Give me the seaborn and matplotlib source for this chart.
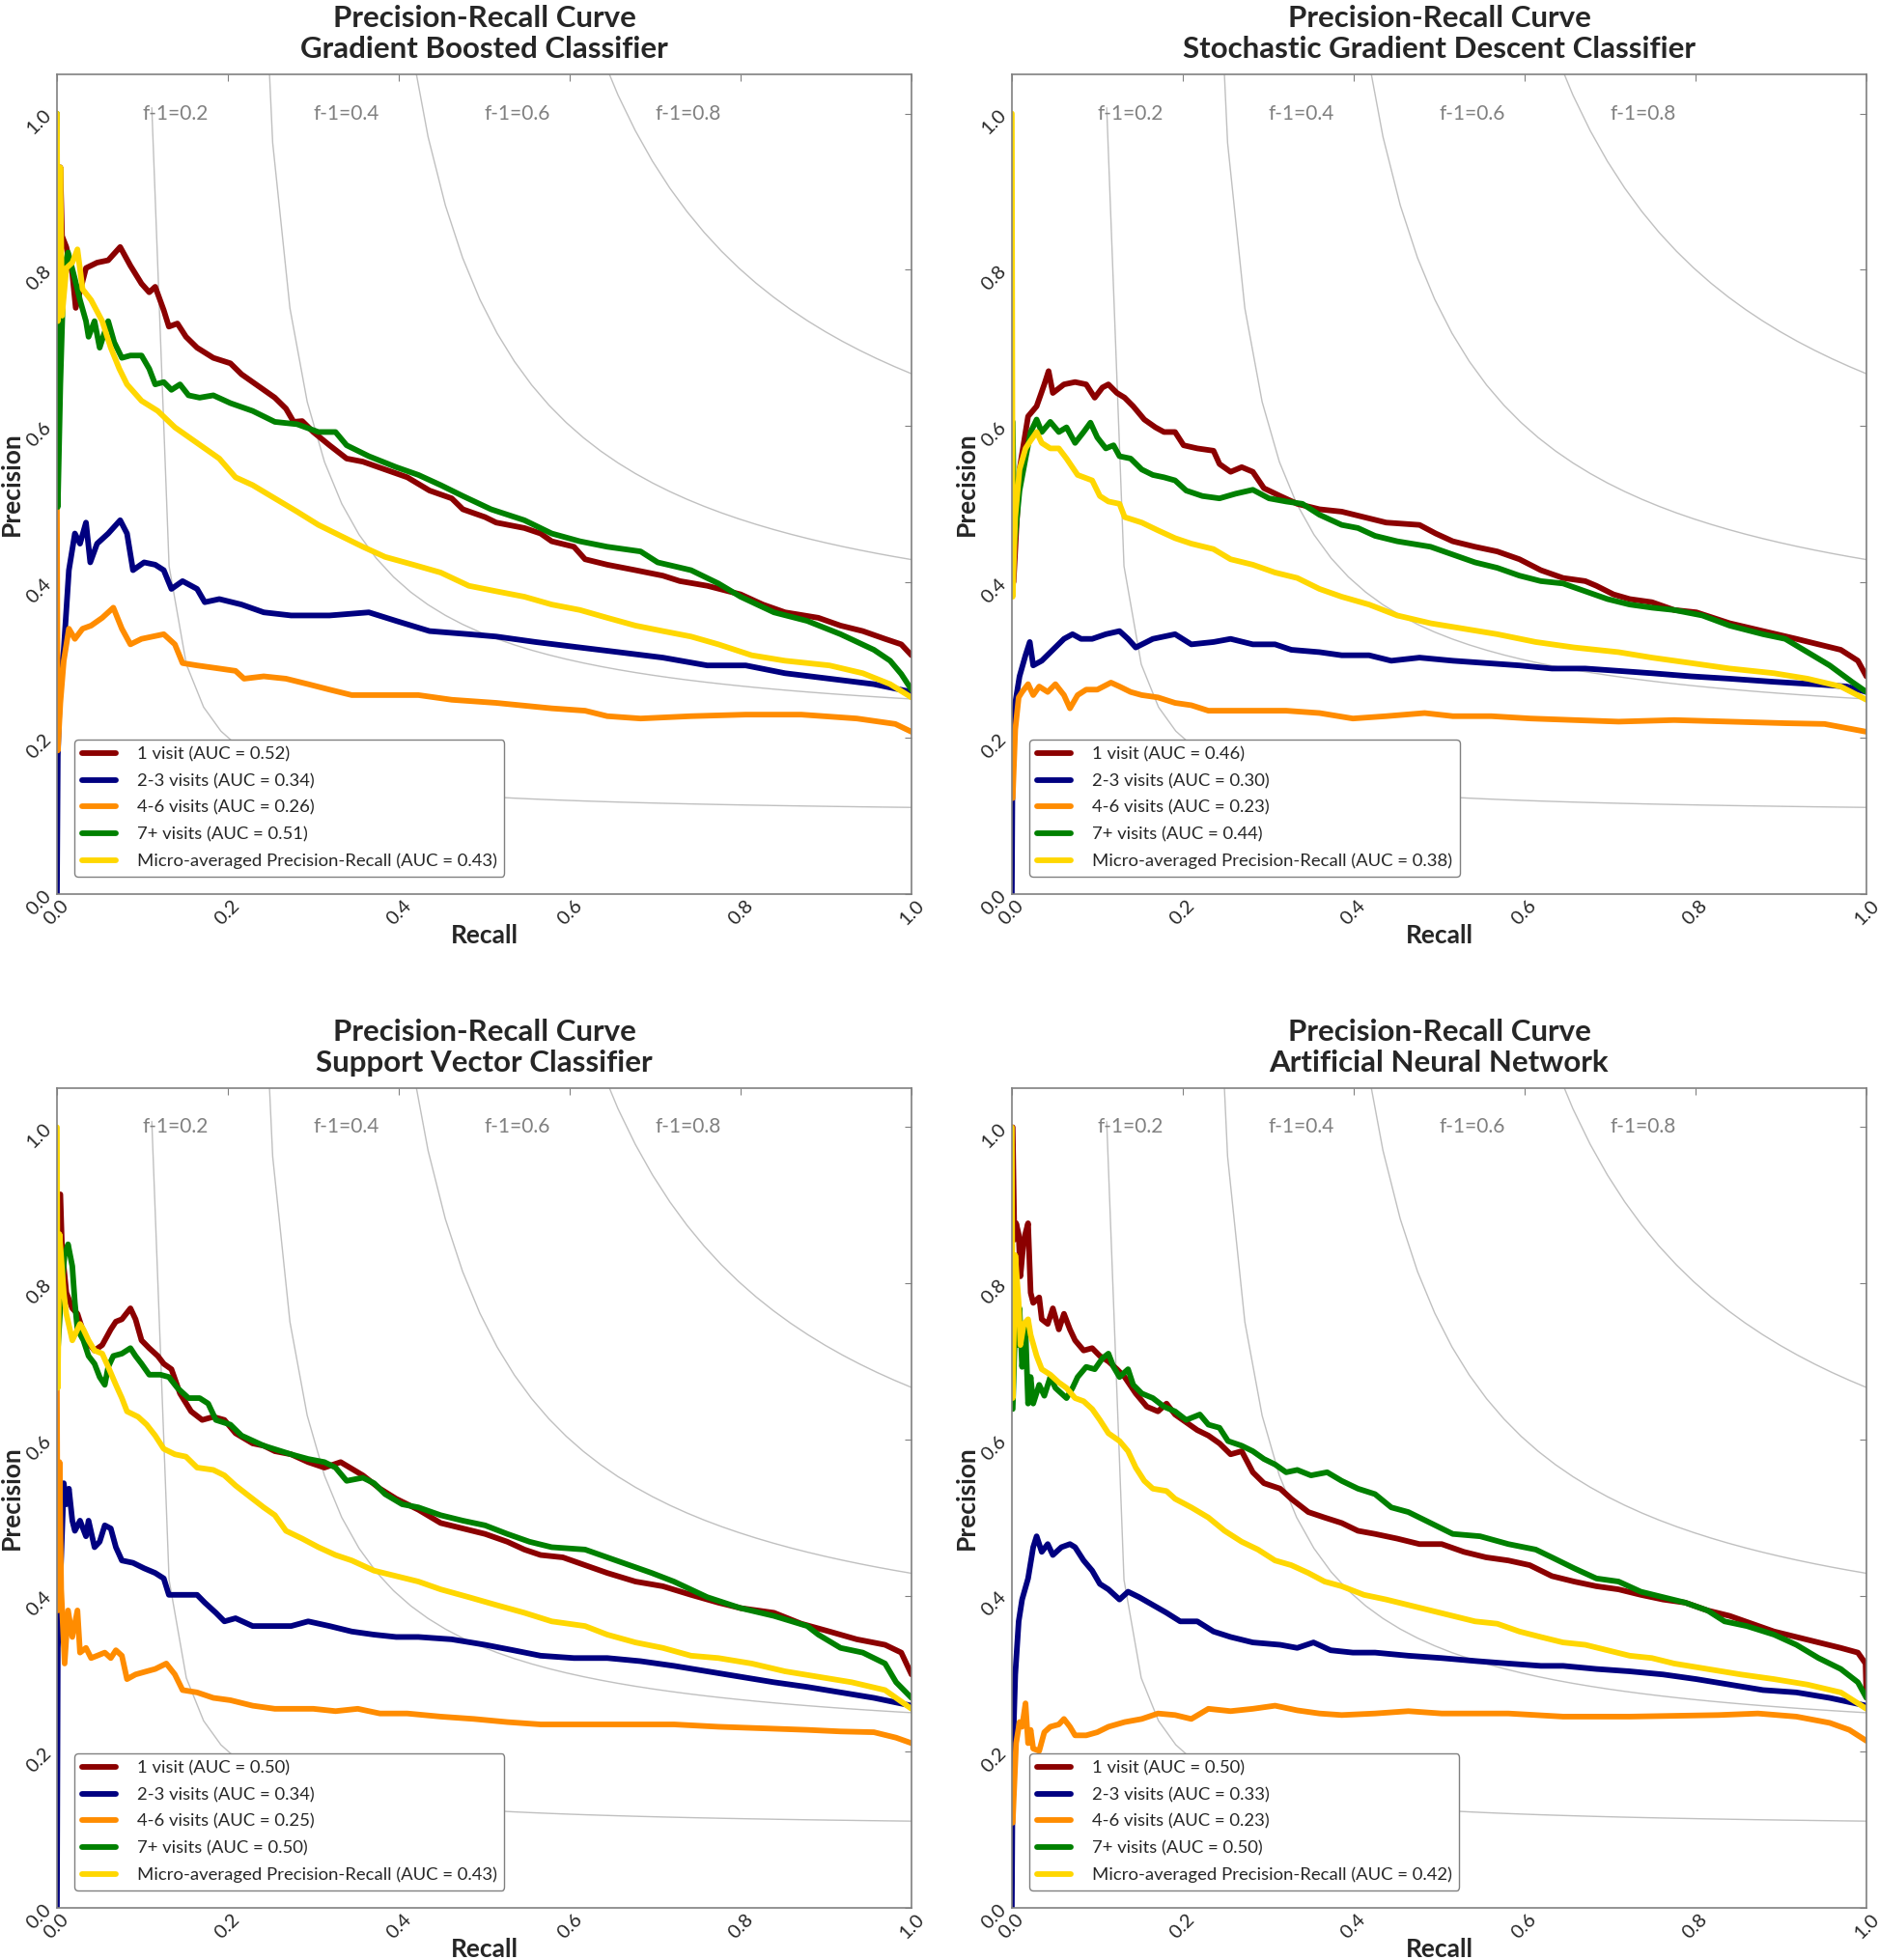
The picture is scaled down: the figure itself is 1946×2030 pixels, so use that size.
import numpy as np
import matplotlib.pyplot as plt
import seaborn as sns

# class names / colours / AUC values read from the legends
class_labels = ["1 visit", "2-3 visits", "4-6 visits", "7+ visits", "Micro-averaged Precision-Recall"]
line_colors = ["darkred", "navy", "darkorange", "green", "gold"]
f_scores = [0.2, 0.4, 0.6, 0.8]

gb_auc = [0.52, 0.34, 0.26, 0.51, 0.43]
sgd_auc = [0.46, 0.30, 0.23, 0.44, 0.38]
svc_auc = [0.50, 0.34, 0.25, 0.50, 0.43]
ann_auc = [0.50, 0.33, 0.23, 0.50, 0.42]

# ---------------- Gradient Boosted Classifier ----------------
gb_v1_rec = [0.002, 0.004, 0.006, 0.011, 0.018, 0.022, 0.034, 0.047, 0.060, 0.074,
             0.086, 0.099, 0.108, 0.115, 0.125, 0.131, 0.141, 0.151, 0.164, 0.183,
             0.203, 0.216, 0.229, 0.242, 0.255, 0.268, 0.277, 0.287, 0.300, 0.319,
             0.339, 0.358, 0.384, 0.410, 0.436, 0.462, 0.475, 0.501, 0.514, 0.547,
             0.566, 0.579, 0.605, 0.618, 0.644, 0.677, 0.709, 0.729, 0.761, 0.800,
             0.826, 0.852, 0.891, 0.917, 0.943, 0.969, 0.988, 1.0]
gb_v1_prec = [0.80, 0.931, 0.843, 0.829, 0.795, 0.751, 0.802, 0.809, 0.812, 0.829,
              0.805, 0.782, 0.771, 0.778, 0.748, 0.727, 0.731, 0.714, 0.700, 0.687,
              0.680, 0.666, 0.656, 0.646, 0.636, 0.622, 0.605, 0.606, 0.592, 0.575,
              0.558, 0.554, 0.544, 0.534, 0.517, 0.507, 0.493, 0.483, 0.476, 0.469,
              0.462, 0.452, 0.445, 0.429, 0.422, 0.415, 0.408, 0.401, 0.395, 0.384,
              0.371, 0.361, 0.354, 0.344, 0.337, 0.327, 0.320, 0.306]
gb_v23_rec = [0.0, 0.001, 0.004, 0.008, 0.014, 0.021, 0.027, 0.034, 0.039, 0.047,
              0.060, 0.074, 0.082, 0.089, 0.102, 0.115, 0.125, 0.134, 0.147, 0.164,
              0.173, 0.190, 0.216, 0.242, 0.274, 0.319, 0.365, 0.397, 0.436, 0.482,
              0.514, 0.560, 0.612, 0.657, 0.709, 0.761, 0.806, 0.852, 0.904, 0.956,
              1.0]
gb_v23_prec = [0.0, 0.177, 0.279, 0.313, 0.415, 0.462, 0.449, 0.476, 0.425, 0.449,
               0.462, 0.479, 0.462, 0.415, 0.425, 0.422, 0.415, 0.391, 0.401, 0.391,
               0.374, 0.378, 0.371, 0.361, 0.357, 0.357, 0.361, 0.350, 0.337, 0.333,
               0.330, 0.323, 0.316, 0.310, 0.303, 0.293, 0.293, 0.283, 0.276, 0.269,
               0.259]
gb_v46_rec = [0.0, 0.001, 0.004, 0.008, 0.014, 0.021, 0.030, 0.040, 0.053, 0.066,
              0.076, 0.086, 0.099, 0.112, 0.125, 0.138, 0.147, 0.164, 0.190, 0.209,
              0.219, 0.242, 0.268, 0.294, 0.319, 0.345, 0.384, 0.423, 0.462, 0.514,
              0.579, 0.618, 0.644, 0.683, 0.742, 0.806, 0.871, 0.936, 0.981, 1.0]
gb_v46_prec = [0.496, 0.184, 0.245, 0.299, 0.340, 0.327, 0.340, 0.344, 0.354, 0.367,
               0.340, 0.320, 0.327, 0.330, 0.333, 0.320, 0.296, 0.293, 0.289, 0.286,
               0.276, 0.279, 0.276, 0.269, 0.262, 0.255, 0.255, 0.255, 0.249, 0.245,
               0.238, 0.235, 0.228, 0.225, 0.228, 0.230, 0.230, 0.225, 0.218, 0.208]
gb_v7_rec = [0.0, 0.001, 0.004, 0.008, 0.013, 0.021, 0.027, 0.034, 0.037, 0.044,
             0.050, 0.060, 0.067, 0.076, 0.086, 0.099, 0.108, 0.115, 0.125, 0.134,
             0.144, 0.154, 0.167, 0.183, 0.203, 0.229, 0.255, 0.281, 0.306, 0.326,
             0.339, 0.365, 0.397, 0.423, 0.449, 0.475, 0.508, 0.547, 0.579, 0.612,
             0.644, 0.683, 0.703, 0.742, 0.774, 0.800, 0.839, 0.878, 0.917, 0.956,
             0.975, 0.988, 1.0]
gb_v7_prec = [1.0, 0.496, 0.653, 0.802, 0.822, 0.788, 0.761, 0.734, 0.714, 0.734,
              0.700, 0.734, 0.707, 0.687, 0.690, 0.690, 0.673, 0.653, 0.656, 0.646,
              0.653, 0.639, 0.636, 0.639, 0.629, 0.619, 0.605, 0.602, 0.592, 0.592,
              0.575, 0.561, 0.547, 0.537, 0.524, 0.510, 0.493, 0.479, 0.462, 0.452,
              0.445, 0.439, 0.425, 0.415, 0.398, 0.381, 0.361, 0.350, 0.333, 0.313,
              0.299, 0.282, 0.262]
gb_micro_rec = [0.0, 0.001, 0.004, 0.006, 0.011, 0.018, 0.024, 0.030, 0.040, 0.053,
                0.063, 0.073, 0.082, 0.099, 0.118, 0.138, 0.164, 0.190, 0.209, 0.229,
                0.255, 0.281, 0.306, 0.332, 0.358, 0.384, 0.417, 0.449, 0.482, 0.514,
                0.547, 0.579, 0.612, 0.644, 0.677, 0.709, 0.742, 0.774, 0.813, 0.852,
                0.904, 0.943, 0.975, 1.0]
gb_micro_prec = [1.0, 0.734, 0.931, 0.741, 0.802, 0.809, 0.826, 0.775, 0.761, 0.734,
                 0.700, 0.673, 0.653, 0.632, 0.619, 0.598, 0.578, 0.558, 0.534, 0.524,
                 0.507, 0.490, 0.473, 0.459, 0.445, 0.432, 0.422, 0.412, 0.395, 0.388,
                 0.381, 0.371, 0.364, 0.354, 0.344, 0.337, 0.330, 0.320, 0.306, 0.299,
                 0.293, 0.283, 0.269, 0.252]

# ---------------- Stochastic Gradient Descent Classifier ----------------
sgd_v1_rec = [0.002, 0.009, 0.019, 0.029, 0.038, 0.043, 0.048, 0.061, 0.074, 0.087,
              0.097, 0.106, 0.113, 0.123, 0.132, 0.142, 0.155, 0.168, 0.178, 0.191,
              0.201, 0.217, 0.236, 0.243, 0.256, 0.269, 0.282, 0.295, 0.314, 0.334,
              0.360, 0.386, 0.412, 0.438, 0.477, 0.496, 0.516, 0.542, 0.568, 0.594,
              0.619, 0.645, 0.671, 0.684, 0.704, 0.723, 0.749, 0.775, 0.801, 0.840,
              0.879, 0.918, 0.944, 0.970, 0.990, 1.0]
sgd_v1_prec = [0.40, 0.544, 0.612, 0.625, 0.653, 0.670, 0.642, 0.653, 0.656, 0.653,
               0.636, 0.649, 0.653, 0.642, 0.636, 0.625, 0.608, 0.598, 0.592, 0.592,
               0.575, 0.571, 0.568, 0.551, 0.541, 0.547, 0.541, 0.520, 0.510, 0.500,
               0.493, 0.490, 0.483, 0.476, 0.473, 0.462, 0.452, 0.445, 0.439, 0.429,
               0.415, 0.405, 0.401, 0.395, 0.384, 0.378, 0.374, 0.364, 0.361, 0.347,
               0.337, 0.327, 0.320, 0.313, 0.299, 0.279]
sgd_v23_rec = [0.0, 0.001, 0.004, 0.009, 0.016, 0.021, 0.025, 0.035, 0.048, 0.061,
               0.071, 0.081, 0.094, 0.110, 0.126, 0.136, 0.145, 0.165, 0.191, 0.210,
               0.236, 0.256, 0.282, 0.308, 0.327, 0.360, 0.386, 0.418, 0.444, 0.477,
               0.516, 0.555, 0.594, 0.632, 0.671, 0.710, 0.749, 0.795, 0.840, 0.892,
               0.938, 0.977, 1.0]
sgd_v23_prec = [0.0, 0.211, 0.245, 0.279, 0.306, 0.323, 0.293, 0.299, 0.313, 0.327,
                0.333, 0.327, 0.327, 0.333, 0.337, 0.327, 0.316, 0.327, 0.333, 0.320,
                0.323, 0.327, 0.320, 0.320, 0.313, 0.310, 0.306, 0.306, 0.299, 0.303,
                0.299, 0.296, 0.293, 0.289, 0.289, 0.286, 0.283, 0.279, 0.276, 0.272,
                0.269, 0.266, 0.259]
sgd_v46_rec = [0.001, 0.004, 0.008, 0.012, 0.019, 0.025, 0.032, 0.042, 0.051, 0.061,
               0.068, 0.077, 0.087, 0.100, 0.116, 0.126, 0.139, 0.152, 0.171, 0.191,
               0.210, 0.230, 0.256, 0.282, 0.321, 0.360, 0.399, 0.438, 0.483, 0.516,
               0.561, 0.607, 0.658, 0.710, 0.775, 0.840, 0.905, 0.951, 1.0]
sgd_v46_prec = [0.123, 0.211, 0.252, 0.259, 0.269, 0.255, 0.266, 0.259, 0.269, 0.255,
                0.238, 0.255, 0.262, 0.262, 0.271, 0.266, 0.259, 0.255, 0.252, 0.245,
                0.242, 0.235, 0.235, 0.235, 0.235, 0.232, 0.225, 0.228, 0.232, 0.228,
                0.228, 0.225, 0.223, 0.221, 0.223, 0.221, 0.219, 0.218, 0.208]
sgd_v7_rec = [0.001, 0.003, 0.009, 0.016, 0.022, 0.029, 0.035, 0.045, 0.055, 0.064,
              0.074, 0.084, 0.092, 0.100, 0.110, 0.119, 0.126, 0.139, 0.152, 0.165,
              0.178, 0.191, 0.204, 0.223, 0.243, 0.262, 0.282, 0.301, 0.321, 0.340,
              0.360, 0.386, 0.405, 0.425, 0.451, 0.490, 0.516, 0.542, 0.568, 0.594,
              0.619, 0.645, 0.671, 0.697, 0.723, 0.749, 0.775, 0.808, 0.840, 0.879,
              0.905, 0.931, 0.957, 0.983, 1.0]
sgd_v7_prec = [0.605, 0.449, 0.517, 0.558, 0.592, 0.608, 0.592, 0.605, 0.592, 0.598,
               0.578, 0.592, 0.604, 0.585, 0.571, 0.575, 0.561, 0.558, 0.544, 0.537,
               0.534, 0.530, 0.517, 0.510, 0.507, 0.513, 0.518, 0.507, 0.503, 0.500,
               0.486, 0.473, 0.469, 0.459, 0.452, 0.445, 0.435, 0.425, 0.418, 0.408,
               0.401, 0.398, 0.388, 0.378, 0.371, 0.367, 0.364, 0.357, 0.344, 0.333,
               0.327, 0.310, 0.293, 0.272, 0.259]
sgd_micro_rec = [0.0, 0.001, 0.004, 0.009, 0.016, 0.022, 0.029, 0.035, 0.045, 0.055,
                 0.064, 0.077, 0.094, 0.103, 0.113, 0.126, 0.132, 0.152, 0.171, 0.191,
                 0.210, 0.236, 0.256, 0.282, 0.308, 0.334, 0.360, 0.386, 0.418, 0.451,
                 0.490, 0.529, 0.568, 0.613, 0.658, 0.710, 0.749, 0.795, 0.840, 0.892,
                 0.931, 0.970, 1.0]
sgd_micro_prec = [1.0, 0.381, 0.483, 0.544, 0.571, 0.581, 0.592, 0.578, 0.571, 0.571,
                  0.558, 0.537, 0.530, 0.510, 0.503, 0.500, 0.483, 0.476, 0.466, 0.456,
                  0.449, 0.442, 0.429, 0.422, 0.412, 0.405, 0.391, 0.381, 0.371, 0.357,
                  0.347, 0.340, 0.333, 0.323, 0.316, 0.310, 0.303, 0.296, 0.289, 0.283,
                  0.276, 0.266, 0.249]

# ---------------- Support Vector Classifier ----------------
svc_v1_rec = [0.004, 0.006, 0.011, 0.018, 0.024, 0.034, 0.044, 0.053, 0.063, 0.069,
              0.076, 0.086, 0.092, 0.099, 0.108, 0.118, 0.125, 0.134, 0.144, 0.157,
              0.170, 0.183, 0.196, 0.209, 0.229, 0.242, 0.255, 0.274, 0.294, 0.313,
              0.332, 0.358, 0.378, 0.397, 0.423, 0.449, 0.475, 0.501, 0.527, 0.547,
              0.566, 0.592, 0.618, 0.644, 0.677, 0.709, 0.742, 0.774, 0.800, 0.839,
              0.871, 0.904, 0.936, 0.969, 0.988, 1.0]
svc_v1_prec = [0.914, 0.843, 0.788, 0.768, 0.761, 0.727, 0.714, 0.721, 0.741, 0.751,
               0.754, 0.768, 0.754, 0.727, 0.717, 0.707, 0.697, 0.690, 0.659, 0.636,
               0.625, 0.629, 0.625, 0.608, 0.595, 0.592, 0.585, 0.581, 0.571, 0.564,
               0.571, 0.554, 0.537, 0.524, 0.510, 0.493, 0.486, 0.479, 0.469, 0.459,
               0.452, 0.449, 0.439, 0.429, 0.418, 0.412, 0.401, 0.391, 0.384, 0.378,
               0.364, 0.354, 0.344, 0.337, 0.327, 0.299]
svc_v23_rec = [0.0, 0.001, 0.005, 0.008, 0.011, 0.014, 0.018, 0.021, 0.027, 0.034,
               0.037, 0.044, 0.050, 0.056, 0.063, 0.069, 0.076, 0.089, 0.102, 0.115,
               0.125, 0.131, 0.144, 0.164, 0.173, 0.186, 0.196, 0.209, 0.229, 0.255,
               0.274, 0.294, 0.319, 0.345, 0.371, 0.397, 0.423, 0.462, 0.501, 0.534,
               0.566, 0.605, 0.644, 0.683, 0.722, 0.761, 0.800, 0.839, 0.878, 0.917,
               0.956, 1.0]
svc_v23_prec = [0.0, 0.333, 0.449, 0.544, 0.517, 0.537, 0.496, 0.483, 0.496, 0.476,
                0.496, 0.462, 0.469, 0.490, 0.486, 0.462, 0.445, 0.442, 0.435, 0.429,
                0.422, 0.401, 0.401, 0.401, 0.391, 0.378, 0.367, 0.371, 0.361, 0.361,
                0.361, 0.367, 0.361, 0.354, 0.350, 0.347, 0.347, 0.344, 0.337, 0.330,
                0.323, 0.320, 0.320, 0.316, 0.310, 0.303, 0.296, 0.289, 0.283, 0.276,
                0.269, 0.259]
svc_v46_rec = [0.0, 0.001, 0.003, 0.005, 0.009, 0.013, 0.018, 0.024, 0.027, 0.034,
               0.040, 0.047, 0.056, 0.063, 0.069, 0.076, 0.082, 0.092, 0.105, 0.115,
               0.128, 0.138, 0.147, 0.164, 0.183, 0.203, 0.229, 0.255, 0.300, 0.326,
               0.352, 0.378, 0.410, 0.449, 0.488, 0.527, 0.566, 0.644, 0.722, 0.774,
               0.826, 0.878, 0.917, 0.956, 0.982, 1.0]
svc_v46_prec = [0.666, 0.381, 0.571, 0.408, 0.313, 0.381, 0.347, 0.381, 0.327, 0.333,
                0.320, 0.323, 0.327, 0.320, 0.330, 0.323, 0.293, 0.299, 0.303, 0.306,
                0.313, 0.299, 0.279, 0.276, 0.269, 0.266, 0.259, 0.255, 0.255, 0.252,
                0.255, 0.249, 0.249, 0.245, 0.242, 0.238, 0.235, 0.235, 0.235, 0.232,
                0.230, 0.228, 0.226, 0.225, 0.218, 0.211]
svc_v7_rec = [0.001, 0.005, 0.009, 0.013, 0.018, 0.021, 0.024, 0.031, 0.037, 0.044,
              0.050, 0.056, 0.060, 0.066, 0.076, 0.086, 0.092, 0.099, 0.108, 0.121,
              0.131, 0.141, 0.154, 0.167, 0.177, 0.186, 0.203, 0.216, 0.242, 0.274,
              0.294, 0.313, 0.326, 0.339, 0.358, 0.371, 0.384, 0.404, 0.423, 0.449,
              0.475, 0.501, 0.527, 0.553, 0.579, 0.618, 0.644, 0.670, 0.696, 0.722,
              0.761, 0.800, 0.839, 0.878, 0.891, 0.917, 0.943, 0.969, 0.982, 1.0]
svc_v7_prec = [0.714, 0.788, 0.836, 0.850, 0.822, 0.775, 0.741, 0.727, 0.707, 0.697,
               0.680, 0.670, 0.693, 0.707, 0.710, 0.717, 0.707, 0.697, 0.683, 0.683,
               0.680, 0.666, 0.653, 0.653, 0.646, 0.625, 0.619, 0.605, 0.592, 0.581,
               0.575, 0.571, 0.564, 0.547, 0.551, 0.544, 0.530, 0.517, 0.513, 0.503,
               0.496, 0.490, 0.479, 0.469, 0.462, 0.459, 0.449, 0.439, 0.429, 0.418,
               0.398, 0.384, 0.374, 0.361, 0.350, 0.333, 0.327, 0.313, 0.289, 0.269]
svc_micro_rec = [0.0, 0.001, 0.003, 0.008, 0.011, 0.018, 0.021, 0.027, 0.031, 0.037,
                 0.044, 0.053, 0.060, 0.069, 0.076, 0.082, 0.095, 0.105, 0.115, 0.125,
                 0.138, 0.151, 0.164, 0.183, 0.196, 0.209, 0.229, 0.242, 0.255, 0.268,
                 0.287, 0.306, 0.326, 0.345, 0.371, 0.397, 0.423, 0.449, 0.482, 0.514,
                 0.547, 0.579, 0.618, 0.644, 0.677, 0.709, 0.742, 0.774, 0.813, 0.852,
                 0.891, 0.930, 0.969, 1.0]
svc_micro_prec = [1.0, 0.666, 0.863, 0.788, 0.761, 0.727, 0.734, 0.748, 0.741, 0.727,
                  0.714, 0.710, 0.693, 0.670, 0.653, 0.636, 0.629, 0.619, 0.605, 0.588,
                  0.581, 0.578, 0.564, 0.561, 0.554, 0.541, 0.524, 0.513, 0.503, 0.483,
                  0.473, 0.462, 0.452, 0.445, 0.432, 0.425, 0.418, 0.408, 0.398, 0.388,
                  0.378, 0.367, 0.361, 0.350, 0.340, 0.333, 0.323, 0.320, 0.313, 0.303,
                  0.296, 0.289, 0.279, 0.255]

# ---------------- Artificial Neural Network ----------------
ann_v1_rec = [0.001, 0.003, 0.005, 0.008, 0.010, 0.014, 0.019, 0.022, 0.025, 0.032,
              0.035, 0.042, 0.048, 0.055, 0.061, 0.068, 0.074, 0.084, 0.094, 0.103,
              0.113, 0.123, 0.132, 0.145, 0.158, 0.171, 0.181, 0.191, 0.204, 0.217,
              0.230, 0.243, 0.256, 0.269, 0.282, 0.295, 0.314, 0.327, 0.347, 0.366,
              0.386, 0.405, 0.425, 0.451, 0.477, 0.503, 0.529, 0.555, 0.581, 0.606,
              0.632, 0.658, 0.684, 0.710, 0.736, 0.762, 0.788, 0.814, 0.840, 0.866,
              0.892, 0.918, 0.944, 0.970, 0.990, 0.999, 1.0]
ann_v1_prec = [1.0, 0.856, 0.877, 0.863, 0.809, 0.856, 0.877, 0.788, 0.775, 0.782,
               0.754, 0.748, 0.768, 0.741, 0.761, 0.741, 0.727, 0.714, 0.717, 0.707,
               0.700, 0.690, 0.680, 0.659, 0.642, 0.636, 0.646, 0.632, 0.622, 0.612,
               0.605, 0.595, 0.581, 0.585, 0.558, 0.544, 0.537, 0.524, 0.507, 0.500,
               0.493, 0.483, 0.479, 0.473, 0.466, 0.466, 0.456, 0.449, 0.445, 0.439,
               0.425, 0.418, 0.412, 0.408, 0.401, 0.395, 0.391, 0.381, 0.374, 0.364,
               0.354, 0.347, 0.340, 0.333, 0.327, 0.313, 0.272]
ann_v23_rec = [0.0, 0.001, 0.004, 0.008, 0.012, 0.019, 0.025, 0.029, 0.035, 0.042,
               0.048, 0.058, 0.068, 0.074, 0.084, 0.094, 0.103, 0.113, 0.126, 0.136,
               0.149, 0.165, 0.181, 0.197, 0.217, 0.236, 0.256, 0.282, 0.314, 0.334,
               0.353, 0.373, 0.399, 0.425, 0.464, 0.503, 0.545, 0.581, 0.619, 0.645,
               0.684, 0.723, 0.762, 0.801, 0.840, 0.879, 0.918, 0.957, 1.0]
ann_v23_prec = [0.0, 0.191, 0.299, 0.367, 0.395, 0.422, 0.462, 0.476, 0.456, 0.466,
                0.452, 0.462, 0.466, 0.462, 0.445, 0.432, 0.415, 0.408, 0.395, 0.405,
                0.398, 0.388, 0.378, 0.367, 0.367, 0.354, 0.347, 0.340, 0.337, 0.333,
                0.340, 0.330, 0.327, 0.327, 0.323, 0.320, 0.316, 0.313, 0.310, 0.310,
                0.306, 0.303, 0.299, 0.293, 0.286, 0.279, 0.276, 0.269, 0.259]
ann_v46_rec = [0.001, 0.005, 0.009, 0.012, 0.016, 0.019, 0.022, 0.025, 0.032, 0.038,
               0.045, 0.055, 0.061, 0.068, 0.074, 0.087, 0.100, 0.113, 0.132, 0.152,
               0.171, 0.191, 0.210, 0.230, 0.256, 0.282, 0.308, 0.334, 0.360, 0.386,
               0.425, 0.464, 0.503, 0.581, 0.645, 0.723, 0.827, 0.873, 0.918, 0.957,
               0.980, 1.0]
ann_v46_prec = [0.109, 0.211, 0.238, 0.232, 0.262, 0.211, 0.228, 0.204, 0.201, 0.225,
                0.232, 0.235, 0.242, 0.232, 0.221, 0.221, 0.225, 0.232, 0.238, 0.242,
                0.249, 0.247, 0.242, 0.255, 0.252, 0.255, 0.259, 0.253, 0.249, 0.247,
                0.249, 0.252, 0.249, 0.249, 0.245, 0.245, 0.247, 0.249, 0.245, 0.237,
                0.228, 0.214]
ann_v7_rec = [0.001, 0.004, 0.006, 0.009, 0.012, 0.016, 0.019, 0.022, 0.025, 0.032,
              0.038, 0.045, 0.051, 0.058, 0.064, 0.071, 0.077, 0.087, 0.097, 0.106,
              0.113, 0.119, 0.126, 0.136, 0.142, 0.152, 0.165, 0.178, 0.191, 0.204,
              0.220, 0.230, 0.243, 0.253, 0.269, 0.282, 0.295, 0.308, 0.321, 0.334,
              0.350, 0.369, 0.386, 0.405, 0.425, 0.444, 0.464, 0.490, 0.516, 0.548,
              0.581, 0.613, 0.632, 0.658, 0.684, 0.710, 0.736, 0.762, 0.788, 0.814,
              0.834, 0.860, 0.892, 0.918, 0.944, 0.970, 0.990, 1.0]
ann_v7_prec = [0.639, 0.748, 0.721, 0.768, 0.693, 0.741, 0.646, 0.680, 0.646, 0.670,
               0.656, 0.680, 0.666, 0.659, 0.653, 0.666, 0.680, 0.693, 0.690, 0.704,
               0.710, 0.693, 0.680, 0.690, 0.670, 0.659, 0.653, 0.642, 0.636, 0.625,
               0.632, 0.619, 0.615, 0.598, 0.592, 0.585, 0.575, 0.568, 0.558, 0.561,
               0.554, 0.558, 0.547, 0.537, 0.530, 0.513, 0.507, 0.493, 0.479, 0.476,
               0.466, 0.459, 0.449, 0.435, 0.422, 0.418, 0.405, 0.398, 0.391, 0.381,
               0.367, 0.361, 0.350, 0.337, 0.320, 0.306, 0.289, 0.269]
ann_micro_rec = [0.0, 0.001, 0.004, 0.008, 0.010, 0.014, 0.019, 0.022, 0.029, 0.035,
                 0.045, 0.055, 0.064, 0.074, 0.084, 0.094, 0.103, 0.113, 0.126, 0.136,
                 0.145, 0.155, 0.165, 0.181, 0.191, 0.210, 0.230, 0.249, 0.269, 0.288,
                 0.308, 0.327, 0.347, 0.366, 0.386, 0.412, 0.438, 0.464, 0.490, 0.516,
                 0.542, 0.568, 0.594, 0.619, 0.645, 0.671, 0.697, 0.723, 0.749, 0.775,
                 0.814, 0.853, 0.892, 0.931, 0.970, 1.0]
ann_micro_prec = [1.0, 0.653, 0.836, 0.775, 0.721, 0.748, 0.754, 0.734, 0.707, 0.690,
                  0.683, 0.673, 0.666, 0.653, 0.649, 0.639, 0.625, 0.608, 0.598, 0.585,
                  0.564, 0.547, 0.537, 0.534, 0.524, 0.513, 0.500, 0.483, 0.469, 0.459,
                  0.445, 0.439, 0.429, 0.418, 0.412, 0.401, 0.395, 0.388, 0.381, 0.374,
                  0.367, 0.364, 0.354, 0.347, 0.340, 0.337, 0.330, 0.323, 0.320, 0.313,
                  0.306, 0.299, 0.293, 0.286, 0.276, 0.255]

panels = [
    ("Gradient Boosted Classifier",
     [(gb_v1_rec, gb_v1_prec), (gb_v23_rec, gb_v23_prec), (gb_v46_rec, gb_v46_prec),
      (gb_v7_rec, gb_v7_prec), (gb_micro_rec, gb_micro_prec)], gb_auc),
    ("Stochastic Gradient Descent Classifier",
     [(sgd_v1_rec, sgd_v1_prec), (sgd_v23_rec, sgd_v23_prec), (sgd_v46_rec, sgd_v46_prec),
      (sgd_v7_rec, sgd_v7_prec), (sgd_micro_rec, sgd_micro_prec)], sgd_auc),
    ("Support Vector Classifier",
     [(svc_v1_rec, svc_v1_prec), (svc_v23_rec, svc_v23_prec), (svc_v46_rec, svc_v46_prec),
      (svc_v7_rec, svc_v7_prec), (svc_micro_rec, svc_micro_prec)], svc_auc),
    ("Artificial Neural Network",
     [(ann_v1_rec, ann_v1_prec), (ann_v23_rec, ann_v23_prec), (ann_v46_rec, ann_v46_prec),
      (ann_v7_rec, ann_v7_prec), (ann_micro_rec, ann_micro_prec)], ann_auc),
]

sns.set_style("white")
plt.rcParams['font.family'] = ['Lato', 'DejaVu Sans']

fig = plt.figure(figsize=(19.46, 20.30), dpi=100)
axes_pos = [[0.0303, 0.5438, 0.4548, 0.4182],
            [0.5385, 0.5438, 0.4548, 0.4182],
            [0.0303, 0.0266, 0.4548, 0.4182],
            [0.5385, 0.0266, 0.4548, 0.4182]]

ticks = [0.0, 0.2, 0.4, 0.6, 0.8, 1.0]
iso_x = np.linspace(0.01, 1)

for pos, (name, curves, aucs) in zip(axes_pos, panels):
    ax = fig.add_axes(pos)

    # iso f1 curves
    for f in f_scores:
        iso_y = f * iso_x / (2 * iso_x - f)
        keep = iso_y >= 0
        sns.lineplot(x=iso_x[keep], y=iso_y[keep], color='#c0c0c0', linewidth=1,
                     sort=False, estimator=None, ax=ax)
        ax.text(f - 0.1, 1.0, 'f-1={0:0.1f}'.format(f), color='gray',
                fontsize=15, va='center', ha='left')

    for (rec, prec), lab, col, auc in zip(curves, class_labels, line_colors, aucs):
        sns.lineplot(x=rec, y=prec, color=col, linewidth=4.2, sort=False, estimator=None,
                     label='{0} (AUC = {1:0.2f})'.format(lab, auc), ax=ax)

    ax.set_xlim(0.0, 1.0)
    ax.set_ylim(0.0, 1.05)
    ax.set_xticks(ticks)
    ax.set_yticks(ticks)
    ax.set_xticklabels(['{0:0.1f}'.format(t) for t in ticks], rotation=45)
    ax.set_yticklabels(['{0:0.1f}'.format(t) for t in ticks], rotation=45)
    ax.tick_params(axis='both', direction='in', length=5, color='gray',
                   labelsize=14.5, top=True, right=True, pad=2)
    for sp in ax.spines.values():
        sp.set_color('gray')
        sp.set_linewidth(1.2)

    ax.set_xlabel('Recall', fontsize=19, fontweight='bold', labelpad=-3)
    ax.set_ylabel('Precision', fontsize=19, fontweight='bold', labelpad=0)
    ax.set_title('Precision-Recall Curve\n' + name, fontsize=22.5, fontweight='bold',
                 pad=12, linespacing=1.2)

    ax.legend(loc='lower left', fontsize=13.3, frameon=True, fancybox=True,
              edgecolor='gray', framealpha=1, handlelength=1.9, handletextpad=1.2,
              labelspacing=0.62, borderaxespad=1.0)

fig.savefig('out.png', dpi=100)
